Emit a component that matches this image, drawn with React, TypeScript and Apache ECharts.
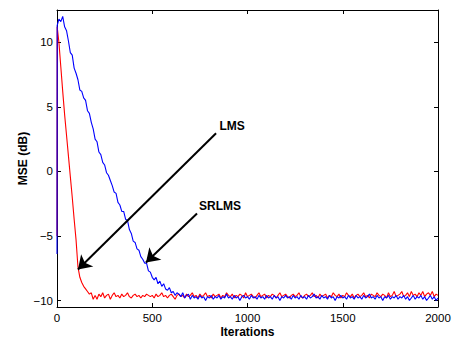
import React, { useEffect, useRef } from "react";
import * as echarts from "echarts";

// iteration positions: 0, 1, then every 10 up to 2000
const iterations: number[] = [0, 1];
for (let it = 10; it <= 2000; it += 10) iterations.push(it);

// red curve (pointed at by "LMS"), iterations 0, 1, 10..190
const lmsStart = [
  -5.0, 11.2, 10.0, 8.1, 6.2, 4.4, 2.8, 1.2, -0.4, -2.0, -3.7,
  -5.3, -7.4, -8.2, -8.6, -8.9, -9.1, -9.3, -9.5, -9.4, -9.9,
];
// red curve, iterations 200..2000
const lmsPlateau = [
  -9.6, -9.9, -9.5, -9.7, -9.4, -9.8, -9.6, -9.5, -9.9, -9.6,
  -9.4, -9.7, -9.6, -9.8, -9.5, -9.7, -9.6, -9.4, -9.7, -9.8,
  -9.6, -9.5, -9.7, -9.6, -9.8, -9.6, -9.7, -9.5, -9.6, -9.7,
  -9.6, -9.8, -9.5, -9.7, -9.6, -9.4, -9.7, -9.6, -9.8, -9.6,
  -9.5, -9.7, -9.9, -9.6, -9.5, -9.7, -9.6, -9.8, -9.5, -9.7,
  -9.6, -9.4, -9.7, -9.6, -9.8, -9.5, -9.7, -9.6, -9.4, -9.7,
  -9.6, -9.8, -9.5, -9.7, -9.6, -9.5, -9.8, -9.6, -9.7, -9.4,
  -9.6, -9.7, -9.5, -9.8, -9.6, -9.7, -9.5, -9.6, -9.8, -9.4,
  -9.7, -9.6, -9.5, -9.7, -9.8, -9.6, -9.4, -9.7, -9.6, -9.5,
  -9.8, -9.6, -9.7, -9.5, -9.6, -9.8, -9.6, -9.4, -9.7, -9.6,
  -9.5, -9.7, -9.8, -9.6, -9.5, -9.7, -9.6, -9.4, -9.7, -9.8,
  -9.6, -9.5, -9.7, -9.6, -9.4, -9.7, -9.6, -9.8, -9.5, -9.7,
  -9.6, -9.5, -9.8, -9.6, -9.7, -9.4, -9.6, -9.7, -9.5, -9.8,
  -9.6, -9.7, -9.4, -9.6, -9.7, -9.5, -9.8, -9.6, -9.5, -9.7,
  -9.6, -9.4, -9.7, -9.6, -9.8, -9.5, -9.6, -9.7, -9.4, -9.6,
  -9.7, -9.5, -9.6, -9.8, -9.4, -9.7, -9.6, -9.3, -9.7, -9.6,
  -9.5, -9.3, -9.7, -9.6, -9.4, -9.7, -9.3, -9.6, -9.5, -9.7,
  -9.4, -9.6, -9.3, -9.7, -9.5, -9.4, -9.6, -9.3, -9.7, -9.5,
  -9.6,
];

// blue curve (pointed at by "SRLMS"), iterations 0, 1, 10..700
const srlmsStart = [
  -6.4, 11.3,
  11.8, 11.6, 12.0, 11.2, 10.9, 10.1, 9.2, 9.0, 8.0, 7.6,
  7.1, 6.3, 6.2, 5.7, 5.5, 4.7, 4.5, 3.8, 3.3, 2.5,
  2.3, 1.5, 1.3, 0.7, 0.5, -0.1, -0.3, -0.7, -1.1, -1.6,
  -1.7, -2.4, -2.6, -3.1, -3.1, -3.7, -3.8, -4.5, -4.8, -5.4,
  -5.5, -6.0, -6.1, -6.6, -6.8, -7.1, -7.1, -7.7, -7.8, -8.2,
  -8.4, -8.2, -8.7, -8.5, -8.9, -8.7, -9.1, -9.2, -9.0, -9.4,
  -9.3, -9.6, -9.4, -9.5, -9.7, -9.4, -9.8, -9.6, -9.5, -9.9,
];
// blue curve, iterations 710..2000
const srlmsPlateau = [
  -9.6, -9.8, -9.7, -9.9, -9.6, -9.8, -9.7, -10.0, -9.7, -9.8,
  -9.6, -9.9, -9.7, -9.8, -9.6, -9.9, -9.7, -9.8, -9.5, -9.8,
  -9.7, -9.9, -9.6, -9.8, -9.7, -10.0, -9.7, -9.6, -9.8, -9.7,
  -9.9, -9.6, -9.8, -9.7, -9.9, -9.6, -9.8, -9.7, -9.9, -9.6,
  -9.8, -9.7, -9.9, -9.6, -9.8, -9.7, -10.0, -9.7, -9.8, -9.6,
  -9.8, -9.7, -9.9, -9.6, -9.8, -9.7, -9.9, -9.6, -9.8, -9.7,
  -9.9, -9.6, -9.8, -9.7, -9.5, -9.8, -9.7, -9.9, -9.6, -9.8,
  -9.7, -9.9, -9.6, -9.8, -9.7, -10.0, -9.7, -9.8, -9.6, -9.8,
  -9.7, -9.9, -9.6, -9.8, -9.7, -9.9, -9.6, -9.8, -9.7, -9.9,
  -9.6, -9.8, -9.7, -9.5, -9.8, -9.7, -9.9, -9.6, -9.8, -9.7,
  -10.0, -9.7, -9.8, -9.6, -9.9, -9.7, -9.8, -9.6, -9.9, -9.7,
  -9.8, -9.6, -9.9, -9.7, -10.0, -9.8, -9.6, -9.9, -9.7, -9.8,
  -9.6, -9.9, -9.7, -10.0, -9.8, -9.6, -9.9, -9.7, -10.0, -9.8,
];

const lmsValues = lmsStart.concat(lmsPlateau);
const srlmsValues = srlmsStart.concat(srlmsPlateau);

const yTicks = [-10, -5, 0, 5, 10];
const xTicks = [0, 500, 1000, 1500, 2000];

// annotation anchors in data coordinates: [text, arrowStart, arrowTip]
const lmsNote = { text: "LMS", label: [919, 3.5], from: [835, 2.95], to: [110, -7.6] };
const srlmsNote = { text: "SRLMS", label: [856, -2.7], from: [735, -3.26], to: [467, -7.05] };

const FONT = "'Liberation Sans', Arial, Helvetica, sans-serif";

export default function App() {
  const ref = useRef<HTMLDivElement>(null);
  useEffect(() => {
    if (!ref.current) return;
    const chart = echarts.init(ref.current, undefined, { renderer: "svg" });
    const fmt = (v: number) => String(v).replace("-", "\u2212");
    const axisLine = { show: true, onZero: false, lineStyle: { color: "#000", width: 1 } };
    const tick = { show: true, inside: true, length: 4, lineStyle: { color: "#000" } };
    const notes = [lmsNote, srlmsNote];
    chart.setOption({
      animation: false,
      grid: { left: 57, right: 19, top: 10, bottom: 31, outerBoundsMode: "none", containLabel: false },
      xAxis: [
        {
          type: "value", min: 0, max: 2000, interval: 500, position: "bottom",
          name: "Iterations", nameLocation: "middle", nameGap: 19, nameMoveOverlap: false,
          nameTextStyle: { fontFamily: FONT, fontSize: 12, fontWeight: "bold", color: "#000" },
          axisLine, axisTick: tick, splitLine: { show: false },
          axisLabel: { margin: 5, fontFamily: FONT, fontSize: 11.5, color: "#000", formatter: fmt,
            customValues: xTicks },
        },
        {
          type: "value", min: 0, max: 2000, interval: 500, position: "top",
          axisLine, axisTick: tick, splitLine: { show: false }, axisLabel: { show: false },
        },
      ],
      yAxis: [
        {
          type: "value", min: -10.5, max: 12.5, position: "left",
          name: "MSE (dB)", nameLocation: "middle", nameGap: 28, nameRotate: 90, nameMoveOverlap: false,
          nameTextStyle: { fontFamily: FONT, fontSize: 12, fontWeight: "bold", color: "#000" },
          axisLine, splitLine: { show: false },
          axisTick: { ...tick, customValues: yTicks },
          axisLabel: { margin: 4, fontFamily: FONT, fontSize: 11.5, color: "#000", formatter: fmt,
            customValues: yTicks },
        },
        {
          type: "value", min: -10.5, max: 12.5, position: "right",
          axisLine, splitLine: { show: false },
          axisTick: { ...tick, customValues: yTicks },
          axisLabel: { show: false, customValues: yTicks },
        },
      ],
      series: [
        {
          name: "LMS", type: "line", showSymbol: false, symbol: "none",
          data: iterations.map((it, i) => [it, lmsValues[i]]),
          lineStyle: { color: "#ff0000", width: 1.1 }, itemStyle: { color: "#ff0000" },
          z: 2,
        },
        {
          name: "SRLMS", type: "line", showSymbol: false, symbol: "none",
          data: iterations.map((it, i) => [it, srlmsValues[i]]),
          lineStyle: { color: "#0000ff", width: 1.1 }, itemStyle: { color: "#0000ff" },
          z: 3,
          markLine: {
            silent: true, symbol: ["none", "arrow"], symbolSize: 13,
            label: { show: false },
            lineStyle: { color: "#000", width: 2, type: "solid" },
            emphasis: { disabled: true },
            data: notes.map((n) => [{ coord: n.from }, { coord: n.to }]),
          },
          markPoint: {
            silent: true, symbol: "circle", symbolSize: 0,
            itemStyle: { color: "transparent" },
            label: {
              show: true, position: "inside", fontFamily: FONT, fontSize: 12,
              fontWeight: "bold", color: "#000",
              formatter: (p: any) => p.name,
            },
            data: notes.map((n) => ({ name: n.text, coord: n.label })),
          },
        },
      ],
    });
    return () => chart.dispose();
  }, []);
  return <div ref={ref} style={{ width: 457, height: 338, position: "absolute", left: 0, top: 0, background: "#fff" }} />;
}
